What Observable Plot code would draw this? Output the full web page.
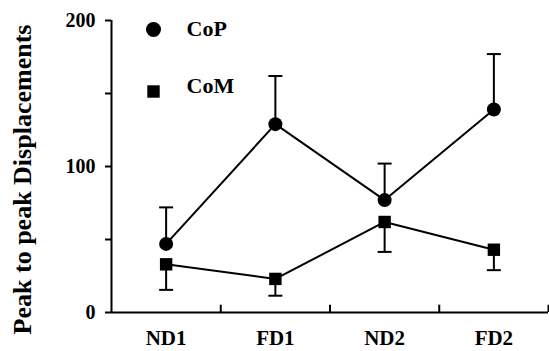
<!DOCTYPE html>
<html><head><meta charset="utf-8">
<script src="https://cdn.jsdelivr.net/npm/d3@7"></script>
<script src="https://cdn.jsdelivr.net/npm/@observablehq/plot@0.6"></script>
<style>html,body{margin:0;padding:0;background:#fff}</style>
</head><body><div id="chart"></div>
<script>
const categories = ["ND1", "FD1", "ND2", "FD2"];
const copMean = [47, 129, 77, 139];
const copSD = [25, 33, 25, 38];
const comMean = [33, 23, 62, 43];
const comSD = [17.5, 11.5, 20.5, 14];
const yTickValues = [0, 50, 100, 150, 200];
const yLabeledTicks = [0, 100, 200];
const xBoundaries = [1, 2, 3, 4];
const legendLabels = ["CoP", "CoM"];
const yTitle = "Peak to peak Displacements";

const cop = categories.map((c, i) => ({pos: i + 0.5, cat: c, v: copMean[i], end: copMean[i] + copSD[i]}));
const com = categories.map((c, i) => ({pos: i + 0.5, cat: c, v: comMean[i], end: comMean[i] - comSD[i]}));

const cap = {draw(ctx, size) { const w = Math.sqrt(size / Math.PI); ctx.moveTo(-w, 0); ctx.lineTo(w, 0); }};
const font = "'Liberation Serif', 'Times New Roman', serif";

const chart = Plot.plot({
  width: 549, height: 351,
  marginLeft: 111, marginRight: 1, marginTop: 20, marginBottom: 39,
  style: {fontFamily: font, fontWeight: "bold", color: "#000", background: "#fff"},
  x: {domain: [0, 4], axis: null},
  y: {domain: [0, 200], axis: null},
  marks: [
    Plot.axisY({ticks: yTickValues, tickFormat: d => yLabeledTicks.includes(d) ? String(d) : "", tickSize: 6, tickPadding: 10, fontSize: 20, strokeWidth: 2, label: null}),
    Plot.axisX({ticks: cop.map(d => d.pos), tickFormat: d => categories[Math.round(d - 0.5)], tickSize: 0, tickPadding: 18, fontSize: 21, label: null}),
    Plot.ruleX([0], {y1: 0, y2: 200, strokeWidth: 2}),
    Plot.ruleY([0], {x1: 0, x2: 4, strokeWidth: 2}),
    Plot.ruleX(xBoundaries, {y1: 0, y2: 5, strokeWidth: 2}),
    // CoP
    Plot.ruleX(cop, {x: "pos", y1: "v", y2: "end", strokeWidth: 2}),
    Plot.dot(cop, {x: "pos", y: "end", symbol: cap, r: 7, stroke: "black", strokeWidth: 2}),
    Plot.line(cop, {x: "pos", y: "v", strokeWidth: 2}),
    Plot.dot(cop, {x: "pos", y: "v", r: 7, fill: "black", symbol: "circle"}),
    // CoM
    Plot.ruleX(com, {x: "pos", y1: "v", y2: "end", strokeWidth: 2}),
    Plot.dot(com, {x: "pos", y: "end", symbol: cap, r: 7, stroke: "black", strokeWidth: 2}),
    Plot.line(com, {x: "pos", y: "v", strokeWidth: 2}),
    Plot.dot(com, {x: "pos", y: "v", r: 7, fill: "black", symbol: "square"}),
    // legend
    Plot.dot([legendLabels[0]], {frameAnchor: "top-left", dx: 42, dy: 9, r: 7.5, fill: "black", symbol: "circle"}),
    Plot.text([legendLabels[0]], {frameAnchor: "top-left", dx: 75, dy: 8, text: d => d, textAnchor: "start", lineAnchor: "middle", fontSize: 22}),
    Plot.dot([legendLabels[1]], {frameAnchor: "top-left", dx: 42, dy: 71, r: 7, fill: "black", symbol: "square"}),
    Plot.text([legendLabels[1]], {frameAnchor: "top-left", dx: 75, dy: 65, text: d => d, textAnchor: "start", lineAnchor: "middle", fontSize: 22}),
    // y title
    Plot.text([yTitle], {frameAnchor: "left", dx: -89, dy: 13, rotate: -90, text: d => d, textAnchor: "middle", lineAnchor: "middle", fontSize: 26})
  ]
});
document.getElementById("chart").appendChild(chart);
</script>
</body></html>
